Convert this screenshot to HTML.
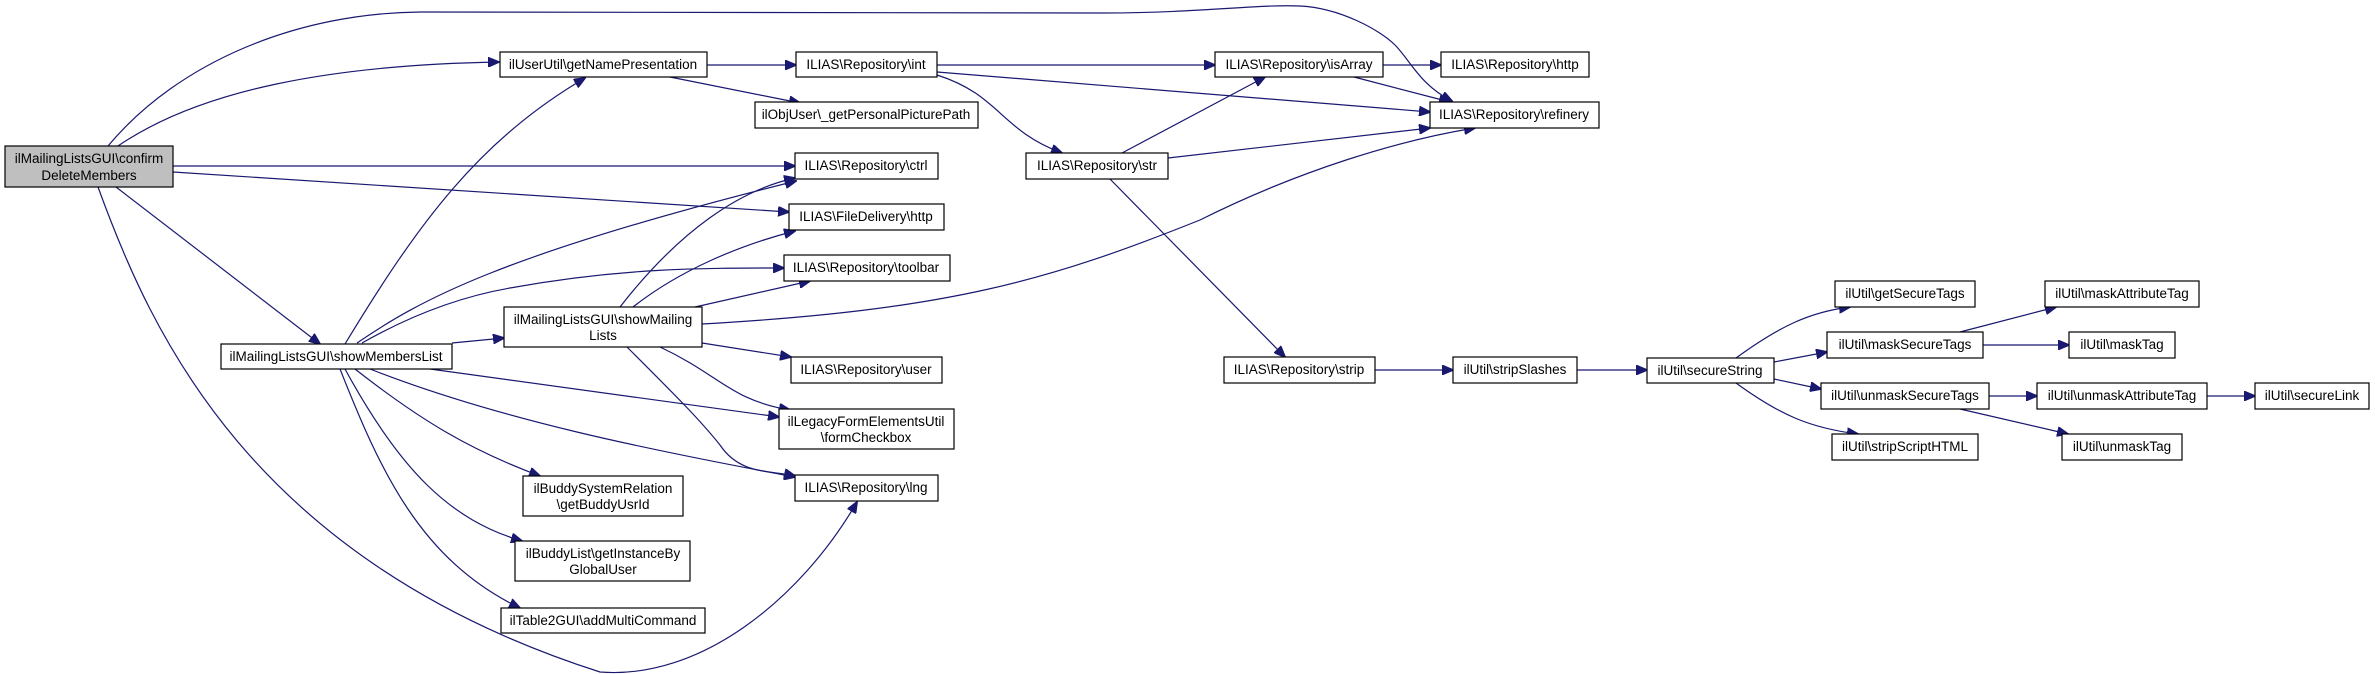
<!DOCTYPE html>
<html><head><meta charset="utf-8"><style>
html,body{margin:0;padding:0;background:#fff;}
svg{display:block;}
text{font-family:"Liberation Sans",Arial,sans-serif;font-size:13.5px;fill:#000;text-anchor:middle;}
.n{fill:#fff;stroke:#000;stroke-width:1.2;}
.e{fill:none;stroke:#191970;stroke-width:1.2;marker-end:url(#a);}
</style></head><body>
<svg width="2375" height="674" viewBox="0 0 2375 674" xmlns="http://www.w3.org/2000/svg">
<defs><marker id="a" markerWidth="12" markerHeight="10" refX="11" refY="5" orient="auto" markerUnits="userSpaceOnUse"><path d="M0,0 L12,5 L0,10 Z" fill="#191970" stroke="#191970"/></marker></defs>
<!-- edges -->
<path class="e" d="M108,146 C180,60 300,13 420,12 L1100,13 C1200,13 1260,4 1300,6 C1340,8 1380,30 1395,45 C1410,60 1420,85 1452,101"/>
<path class="e" d="M118,146 C200,90 330,65 499,62"/>
<path class="e" d="M173,166 L795,166"/>
<path class="e" d="M173,172 L789,212"/>
<path class="e" d="M116,187 L320,344"/>
<path class="e" d="M98,187 C150,330 250,560 600,672 C700,680 800,600 857,502"/>
<path class="e" d="M707,65 L796,65"/>
<path class="e" d="M670,77 L800,103"/>
<path class="e" d="M937,65 L1215,65"/>
<path class="e" d="M937,72 L1430,112"/>
<path class="e" d="M937,75 C1000,95 1000,130 1062,153"/>
<path class="e" d="M1383,65 L1441,65"/>
<path class="e" d="M1354,77 L1450,102"/>
<path class="e" d="M1122,153 L1265,77"/>
<path class="e" d="M1168,158 L1430,128"/>
<path class="e" d="M1110,179 L1285,357"/>
<path class="e" d="M1375,370 L1453,370"/>
<path class="e" d="M1577,370 L1647,370"/>
<path class="e" d="M1736,358 C1780,326 1810,312 1850,307"/>
<path class="e" d="M1774,362 L1827,352"/>
<path class="e" d="M1774,379 L1821,389"/>
<path class="e" d="M1736,383 C1780,415 1810,428 1858,434"/>
<path class="e" d="M1960,332 L2056,307"/>
<path class="e" d="M1983,345 L2069,345"/>
<path class="e" d="M1989,396 L2037,396"/>
<path class="e" d="M1960,409 L2068,434"/>
<path class="e" d="M2207,396 L2255,396"/>
<path class="e" d="M345,344 C420,220 480,140 585,78"/>
<path class="e" d="M357,343 C420,300 500,255 796,181"/>
<path class="e" d="M362,343 C420,310 470,295 510,288 C620,268 700,268 784,268"/>
<path class="e" d="M452,343 L504,338"/>
<path class="e" d="M430,369 L779,417"/>
<path class="e" d="M370,369 C500,420 650,450 795,477"/>
<path class="e" d="M355,369 C420,420 470,450 540,476"/>
<path class="e" d="M345,369 C400,470 450,520 522,541"/>
<path class="e" d="M340,369 C380,470 420,560 520,608"/>
<path class="e" d="M620,307 C680,230 740,190 795,178"/>
<path class="e" d="M633,307 C680,270 740,245 795,231"/>
<path class="e" d="M695,307 L810,281"/>
<path class="e" d="M702,324 C950,310 1050,280 1200,220 C1300,170 1400,140 1475,128"/>
<path class="e" d="M702,343 L791,357"/>
<path class="e" d="M660,347 C720,375 730,400 790,410"/>
<path class="e" d="M627,347 C680,400 700,420 720,445 C740,475 770,470 795,476"/>
<!-- nodes -->
<rect x="5" y="146" width="168" height="41" fill="#bfbfbf" stroke="#000" stroke-width="1.2"/>
<text x="89" y="163">ilMailingListsGUI\confirm</text><text x="89" y="180">DeleteMembers</text>
<rect class="n" x="500" y="52" width="207" height="25"/><text x="603" y="69">ilUserUtil\getNamePresentation</text>
<rect class="n" x="221" y="344" width="231" height="25"/><text x="336" y="361">ilMailingListsGUI\showMembersList</text>
<rect class="n" x="504" y="307" width="198" height="40"/><text x="603" y="324">ilMailingListsGUI\showMailing</text><text x="603" y="340">Lists</text>
<rect class="n" x="523" y="476" width="160" height="40"/><text x="603" y="493">ilBuddySystemRelation</text><text x="603" y="509">\getBuddyUsrId</text>
<rect class="n" x="515" y="541" width="175" height="40"/><text x="603" y="558">ilBuddyList\getInstanceBy</text><text x="603" y="574">GlobalUser</text>
<rect class="n" x="501" y="608" width="204" height="25"/><text x="603" y="625">ilTable2GUI\addMultiCommand</text>
<rect class="n" x="796" y="52" width="141" height="25"/><text x="866" y="69">ILIAS\Repository\int</text>
<rect class="n" x="755" y="102" width="223" height="26"/><text x="866" y="119">ilObjUser\_getPersonalPicturePath</text>
<rect class="n" x="795" y="153" width="143" height="26"/><text x="866" y="170">ILIAS\Repository\ctrl</text>
<rect class="n" x="789" y="204" width="155" height="26"/><text x="866" y="221">ILIAS\FileDelivery\http</text>
<rect class="n" x="784" y="255" width="166" height="26"/><text x="866" y="272">ILIAS\Repository\toolbar</text>
<rect class="n" x="791" y="357" width="151" height="26"/><text x="866" y="374">ILIAS\Repository\user</text>
<rect class="n" x="779" y="409" width="175" height="40"/><text x="866" y="426">ilLegacyFormElementsUtil</text><text x="866" y="442">\formCheckbox</text>
<rect class="n" x="795" y="475" width="143" height="26"/><text x="866" y="492">ILIAS\Repository\lng</text>
<rect class="n" x="1026" y="153" width="142" height="26"/><text x="1097" y="170">ILIAS\Repository\str</text>
<rect class="n" x="1215" y="52" width="168" height="25"/><text x="1299" y="69">ILIAS\Repository\isArray</text>
<rect class="n" x="1441" y="52" width="148" height="25"/><text x="1515" y="69">ILIAS\Repository\http</text>
<rect class="n" x="1430" y="102" width="169" height="26"/><text x="1514" y="119">ILIAS\Repository\refinery</text>
<rect class="n" x="1224" y="357" width="151" height="26"/><text x="1299" y="374">ILIAS\Repository\strip</text>
<rect class="n" x="1453" y="357" width="124" height="26"/><text x="1515" y="374">ilUtil\stripSlashes</text>
<rect class="n" x="1647" y="358" width="127" height="25"/><text x="1710" y="375">ilUtil\secureString</text>
<rect class="n" x="1835" y="281" width="140" height="26"/><text x="1905" y="298">ilUtil\getSecureTags</text>
<rect class="n" x="1827" y="332" width="156" height="26"/><text x="1905" y="349">ilUtil\maskSecureTags</text>
<rect class="n" x="1821" y="383" width="168" height="26"/><text x="1905" y="400">ilUtil\unmaskSecureTags</text>
<rect class="n" x="1832" y="434" width="146" height="26"/><text x="1905" y="451">ilUtil\stripScriptHTML</text>
<rect class="n" x="2045" y="281" width="154" height="26"/><text x="2122" y="298">ilUtil\maskAttributeTag</text>
<rect class="n" x="2069" y="332" width="106" height="26"/><text x="2122" y="349">ilUtil\maskTag</text>
<rect class="n" x="2037" y="383" width="170" height="26"/><text x="2122" y="400">ilUtil\unmaskAttributeTag</text>
<rect class="n" x="2255" y="383" width="114" height="26"/><text x="2312" y="400">ilUtil\secureLink</text>
<rect class="n" x="2062" y="434" width="120" height="26"/><text x="2122" y="451">ilUtil\unmaskTag</text>
</svg>
</body></html>
